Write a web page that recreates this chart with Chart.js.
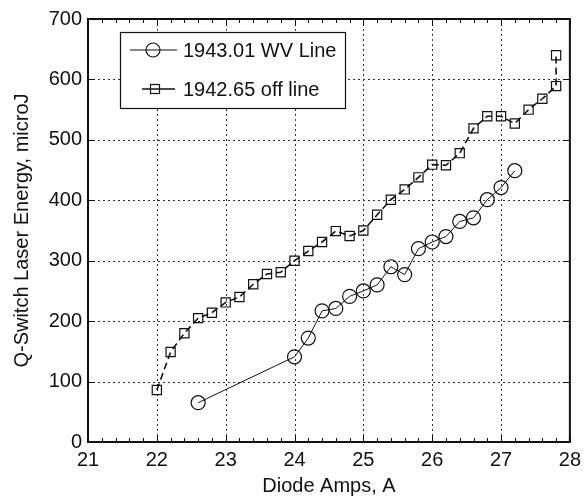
<!DOCTYPE html>
<html>
<head>
<meta charset="utf-8">
<script src="https://cdn.jsdelivr.net/npm/chart.js@4/dist/chart.umd.min.js"></script>
<style>
  html, body { margin: 0; padding: 0; background: #fff; }
  #wrap { width: 587px; height: 498px; }
</style>
</head>
<body>
<div id="wrap"><canvas id="myChart"></canvas></div>
<script>
// off-line series (squares)
const offAmps = [22.0, 22.2, 22.4, 22.6, 22.8, 23.0, 23.2, 23.4, 23.6, 23.8,
  24.0, 24.2, 24.4, 24.6, 24.8, 25.0, 25.2, 25.4, 25.6, 25.8,
  26.0, 26.2, 26.4, 26.6, 26.8, 27.0, 27.2, 27.4, 27.6, 27.8, 27.8];
const offEnergy = [86, 149, 180, 205, 214, 231, 240, 261, 278, 281,
  300, 316, 331, 349, 341, 350, 376, 401, 418, 438,
  459, 458, 478, 519, 539, 539, 527, 550, 568, 589, 640];

// WV line series (circles)
const wvAmps = [22.6, 24.0, 24.2, 24.4, 24.6, 24.8, 25.0, 25.2, 25.4,
  25.6, 25.8, 26.0, 26.2, 26.4, 26.6, 26.8, 27.0, 27.2];
const wvEnergy = [65, 141, 172, 217, 221, 241, 250, 260, 290,
  277, 320, 331, 340, 365, 371, 401, 421, 449];

const seriesNames = ["1943.01 WV Line", "1942.65 off line"];
const xTicks = [21, 22, 23, 24, 25, 26, 27, 28];
const yTicks = [0, 100, 200, 300, 400, 500, 600, 700];

const FONT = '"Liberation Sans", Arial, Helvetica, sans-serif';
Chart.defaults.font.family = FONT;
Chart.defaults.font.size = 20;
Chart.defaults.color = "#111";

const toPts = (xs, ys) => xs.map((x, i) => ({ x, y: ys[i] }));

const frame = {
  id: "frame",
  beforeDatasetsDraw(chart) {
    const { ctx, chartArea: a, scales: { x, y } } = chart;
    ctx.save();
    ctx.strokeStyle = "#333";
    ctx.lineWidth = 1;
    ctx.setLineDash([2, 3]);
    xTicks.slice(1, -1).forEach((v) => {
      const px = Math.round(x.getPixelForValue(v)) + 0.5;
      ctx.beginPath();
      ctx.moveTo(px, a.top);
      ctx.lineTo(px, a.bottom);
      ctx.stroke();
    });
    yTicks.slice(1, -1).forEach((v) => {
      const py = Math.round(y.getPixelForValue(v)) + 0.5;
      ctx.beginPath();
      ctx.moveTo(a.left, py);
      ctx.lineTo(a.right, py);
      ctx.stroke();
    });
    ctx.restore();
  },
  afterDatasetsDraw(chart) {
    const { ctx, chartArea: a, scales: { x, y } } = chart;
    ctx.save();
    ctx.setLineDash([]);
    ctx.strokeStyle = "#111";
    // ticks
    ctx.lineWidth = 1;
    for (let v = 21; v <= 28.001; v += 0.2) {
      const major = Math.abs(v - Math.round(v)) < 0.01;
      const len = major ? 7 : 4;
      const px = Math.round(x.getPixelForValue(v)) + 0.5;
      ctx.beginPath();
      ctx.moveTo(px, a.bottom);
      ctx.lineTo(px, a.bottom - len);
      ctx.moveTo(px, a.top);
      ctx.lineTo(px, a.top + len);
      ctx.stroke();
    }
    yTicks.forEach((v) => {
      const py = Math.round(y.getPixelForValue(v)) + 0.5;
      ctx.beginPath();
      ctx.moveTo(a.left, py);
      ctx.lineTo(a.left + 7, py);
      ctx.moveTo(a.right, py);
      ctx.lineTo(a.right - 7, py);
      ctx.stroke();
    });
    // box
    ctx.lineWidth = 2;
    ctx.strokeRect(a.left, a.top, a.right - a.left, a.bottom - a.top);

    // legend
    const lx = 120, ly = 32, lw = 225, lh = 76;
    ctx.fillStyle = "#fff";
    ctx.fillRect(lx, ly, lw, lh);
    ctx.lineWidth = 1.2;
    ctx.strokeRect(lx + 0.5, ly + 0.5, lw, lh);
    ctx.fillStyle = "#111";
    ctx.font = "20px " + FONT;
    ctx.textBaseline = "middle";
    // row 1
    let ry = ly + 18;
    ctx.lineWidth = 1;
    ctx.beginPath();
    ctx.moveTo(lx + 10, ry);
    ctx.lineTo(lx + 57, ry);
    ctx.stroke();
    ctx.lineWidth = 1.2;
    ctx.beginPath();
    ctx.arc(lx + 33, ry, 7, 0, Math.PI * 2);
    ctx.stroke();
    ctx.fillText(seriesNames[0], lx + 63, ry + 1);
    // row 2
    ry = ly + 57;
    ctx.lineWidth = 1.5;
    ctx.beginPath();
    ctx.moveTo(lx + 22, ry);
    ctx.lineTo(lx + 55, ry);
    ctx.stroke();
    ctx.lineWidth = 1.2;
    ctx.strokeRect(lx + 35 - 4.5, ry - 4.5, 9, 9);
    ctx.fillText(seriesNames[1], lx + 63, ry + 1);
    ctx.restore();
  },
};

new Chart(document.getElementById("myChart"), {
  type: "scatter",
  data: {
    datasets: [
      {
        label: seriesNames[0],
        data: toPts(wvAmps, wvEnergy),
        showLine: true,
        borderColor: "#111",
        borderWidth: 1,
        pointStyle: "circle",
        pointRadius: 7,
        pointBorderWidth: 1.2,
        pointBorderColor: "#111",
        pointBackgroundColor: "rgba(0,0,0,0)",
      },
      {
        label: seriesNames[1],
        data: toPts(offAmps, offEnergy),
        showLine: true,
        borderColor: "#111",
        borderWidth: 1.6,
        borderDash: [7, 4],
        pointStyle: "rect",
        pointRadius: 6.5,
        pointBorderWidth: 1.2,
        pointBorderColor: "#111",
        pointBackgroundColor: "rgba(0,0,0,0)",
      },
    ],
  },
  options: {
    responsive: true,
    maintainAspectRatio: false,
    animation: false,
    layout: { padding: { top: 19, right: 13, left: 0, bottom: 0 } },
    plugins: { legend: { display: false }, tooltip: { enabled: false } },
    scales: {
      x: {
        type: "linear",
        min: 21,
        max: 28,
        grid: { display: false, drawTicks: false },
        border: { display: false },
        ticks: { stepSize: 1, padding: 6, maxRotation: 0 },
        title: { display: true, text: "Diode Amps, A", padding: { top: 5, bottom: 0 } },
        afterFit: (s) => { s.height = 56; },
      },
      y: {
        min: 0,
        max: 700,
        grid: { display: false, drawTicks: false },
        border: { display: false },
        ticks: { stepSize: 100, padding: 6 },
        title: { display: true, text: "Q-Switch Laser Energy, microJ", padding: { top: 10, bottom: 0 } },
        afterFit: (s) => { s.width = 88; },
      },
    },
  },
  plugins: [frame],
});
</script>
</body>
</html>
